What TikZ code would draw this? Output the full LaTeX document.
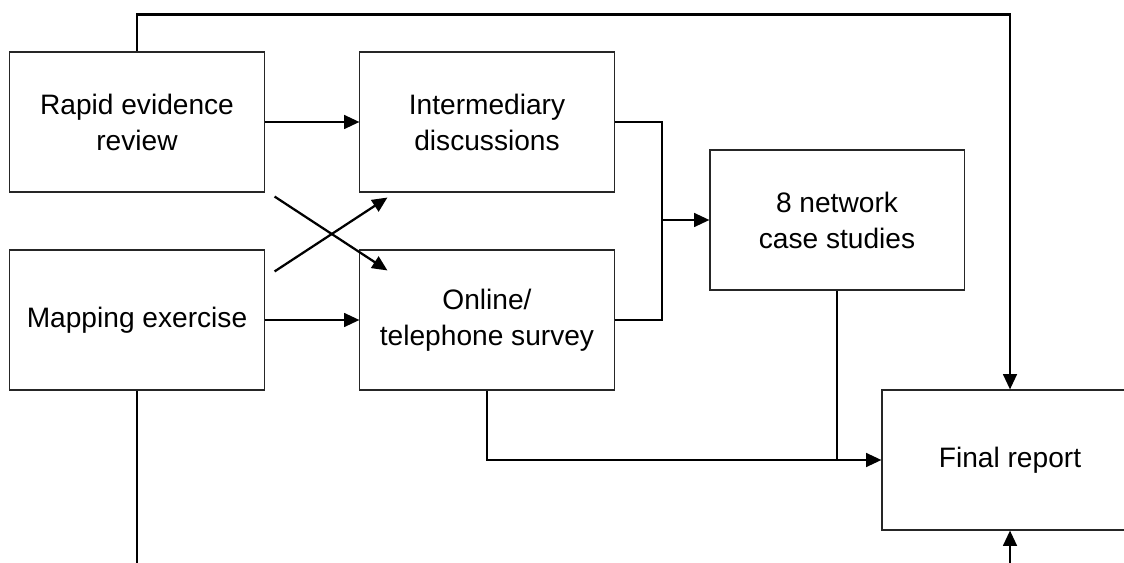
\documentclass[tikz,border=0pt]{standalone}
\usepackage{fontspec}
\setmainfont{Liberation Sans}
\usetikzlibrary{arrows.meta,calc}

\begin{document}
\begin{tikzpicture}[x=0.025cm,y=-0.025cm,>={Triangle[length=0.38cm,width=0.34cm]}]
\tikzset{
  box/.style={draw=black!85, line width=0.75pt, minimum width=6.35cm, minimum height=3.5cm,
    align=center, inner sep=2pt, font=\fontsize{20}{25.6}\selectfont},
  ln/.style={line width=1.6pt},
  arr/.style={->, line width=1.6pt}
}
\useasboundingbox (0,0) rectangle (1124,563);
\clip (0,0) rectangle (1124,563);
% ---------- boxes ----------
\node[box] (rer) at (137,122) {Rapid evidence\\review};
\node[box] (map) at (137,320) {Mapping exercise};
\node[box] (int) at (487,122) {Intermediary\\discussions};
\node[box] (ots) at (487,320) {Online/\\telephone survey};
\node[box] (net) at (837,220) {8 network\\case studies};
\node[box, minimum width=6.4cm] (fin) at (1010,460) {Final report};
% ---------- free ends ----------
\coordinate (jn) at (662,220);
\coordinate (fbot) at (1010,563);
\coordinate (mbot) at (137,563);
% ---------- connectors ----------
\draw[arr] (rer) -- (int);
\draw[arr] (map) -- (ots);
\draw[arr] ($(rer.south east)+(10,4)$) -- ($(ots.north west)+(28,21)$);
\draw[arr] ($(map.north east)+(10,22)$) -- ($(int.south west)+(28,5)$);
\draw[ln] (int.east) -| (jn);
\draw[ln] (ots.east) -| (jn);
\draw[arr] (jn) -- (net.west);
\draw[arr] (rer.north) -- ++(0,-37) -| (fin.north);
\draw[arr] (ots.south) |- (fin.west);
\draw[ln] (net.south) -- (net.south |- fin.west);
\draw[ln] (map.south) -- (mbot);
\draw[arr] (fbot) -- (fin.south);
\end{tikzpicture}
\end{document}
